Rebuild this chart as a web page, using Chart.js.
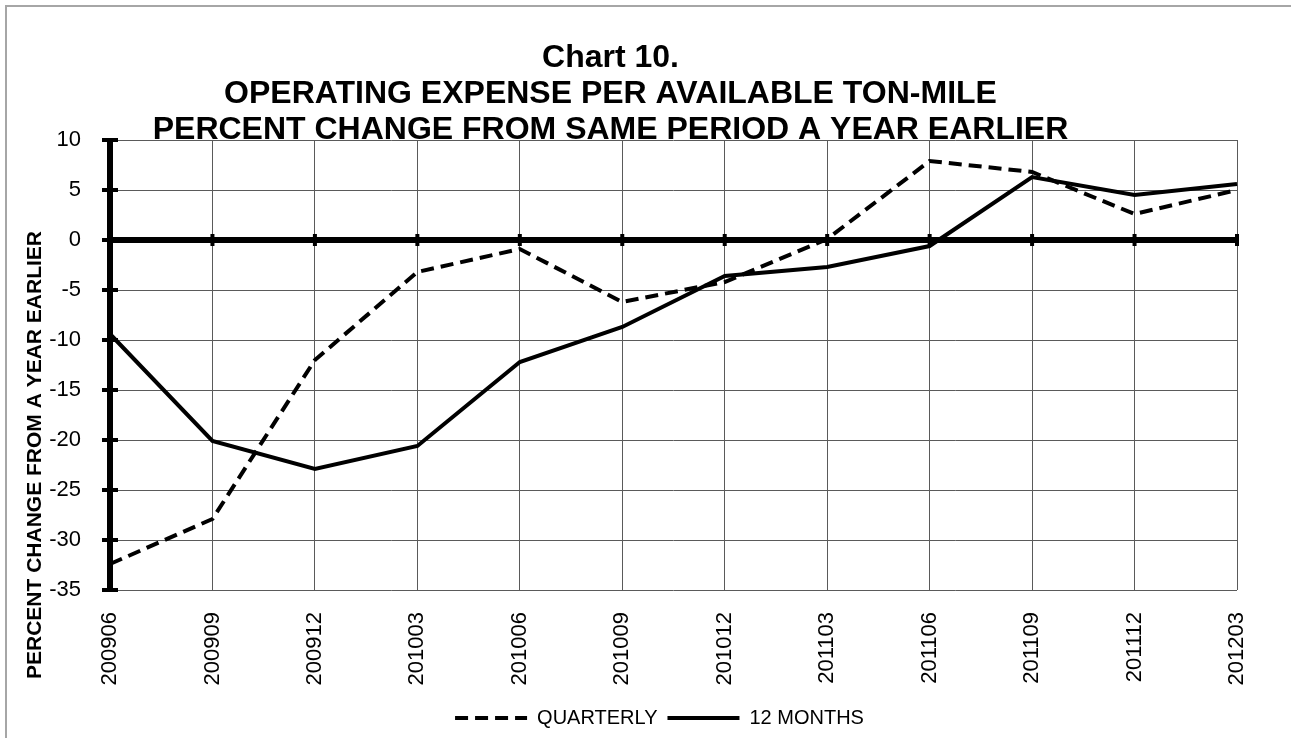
<!DOCTYPE html>
<html lang="en">
<head>
  <meta charset="UTF-8" />
  <title>Chart 10 - Operating Expense per Available Ton-Mile</title>
  <style>
    body {
      margin: 0;
      background: #fff;
    }
    .wrap {
      position: relative;
      width: 1291px;
      height: 738px;
      overflow: hidden;
    }
    .frame {
      position: absolute;
      left: 5px;
      top: 5px;
      width: 1300px;
      height: 760px;
      border-left: 2px solid #a6a6a6;
      border-top: 2px solid #a6a6a6;
    }
    canvas {
      position: absolute;
      left: 0;
      top: 0;
    }
  </style>
</head>
<body>
  <div class="wrap">
    <div class="frame"></div>
    <canvas id="chart10" width="1291" height="738"></canvas>
  </div>

  <script src="https://cdn.jsdelivr.net/npm/chart.js"></script>
  <script>
    const periods = ['200906', '200909', '200912', '201003', '201006', '201009',
                     '201012', '201103', '201106', '201109', '201112', '201203'];
    const quarterly = [-32.4, -27.9, -12.0, -3.2, -0.9, -6.2, -4.2, 0.1, 7.9, 6.8, 2.6, 5.0];
    const twelveMonths = [-9.4, -20.1, -22.9, -20.6, -12.2, -8.7, -3.6, -2.7, -0.6, 6.3, 4.5, 5.6];
    const titleLines = ['Chart 10.', 'OPERATING EXPENSE PER AVAILABLE TON-MILE',
                        'PERCENT CHANGE FROM SAME PERIOD A YEAR EARLIER'];
    const yAxisTitle = 'PERCENT CHANGE FROM A YEAR EARLIER';

    const FONT = "'Liberation Sans', Arial, sans-serif";

    // thick axis lines with cross tick marks, like the spreadsheet original
    const axisMarks = {
      id: 'axisMarks',
      afterLayout(chart) {
        // the original centres title and legend a little left of the boxes Chart.js gives them
        if (chart.titleBlock) { chart.titleBlock.left -= 8; chart.titleBlock.right -= 8; }
        if (chart.legend) { chart.legend.left -= 14; chart.legend.right -= 14; }
      },
      beforeDatasetsDraw(chart) {
        const { ctx, chartArea, scales: { x, y } } = chart;
        const zeroY = y.getPixelForValue(0);
        ctx.save();
        ctx.fillStyle = '#000';
        ctx.fillRect(chartArea.left, zeroY - 3, chartArea.right - chartArea.left + 2, 6);
        x.ticks.forEach((t, i) => {
          const px = x.getPixelForTick(i);
          ctx.fillRect(px - 2, zeroY - 6, 4, 12);
        });
        ctx.fillRect(chartArea.left - 3, chartArea.top, 6, chartArea.bottom - chartArea.top);
        y.ticks.forEach((t, i) => {
          const py = y.getPixelForTick(i);
          ctx.fillRect(chartArea.left - 8, py - 2, 16, 4);
        });
        ctx.restore();
      },
      afterDraw(chart) {
        const ctx = chart.ctx;
        ctx.save();
        ctx.translate(35, 455);
        ctx.rotate(-Math.PI / 2);
        ctx.font = 'bold 21px ' + FONT;
        ctx.fillStyle = '#000';
        ctx.textAlign = 'center';
        ctx.textBaseline = 'middle';
        ctx.fillText(yAxisTitle, 0, 0);
        ctx.restore();
      }
    };

    new Chart(document.getElementById('chart10'), {
      type: 'line',
      data: {
        labels: periods,
        datasets: [
          {
            label: 'QUARTERLY',
            data: quarterly,
            borderColor: '#000',
            backgroundColor: '#000',
            borderWidth: 4,
            borderDash: [13, 7],
            pointRadius: 0,
            tension: 0
          },
          {
            label: '12 MONTHS',
            data: twelveMonths,
            borderColor: '#000',
            backgroundColor: '#000',
            borderWidth: 4,
            pointRadius: 0,
            tension: 0
          }
        ]
      },
      options: {
        responsive: false,
        animation: false,
        devicePixelRatio: 1,
        layout: {
          padding: { top: 0, left: 0, right: 54, bottom: 0 }
        },
        plugins: {
          title: {
            display: true,
            text: titleLines,
            color: '#000',
            font: { family: FONT, size: 32, weight: 'bold', lineHeight: '36px' },
            padding: { top: 40, bottom: -8 }
          },
          legend: {
            position: 'bottom',
            fullSize: false,
            labels: {
              color: '#000',
              font: { family: FONT, size: 20 },
              usePointStyle: true,
              pointStyle: 'line',
              pointStyleWidth: 72,
              padding: 10,
              generateLabels(chart) {
                const items = Chart.defaults.plugins.legend.labels.generateLabels(chart);
                items.forEach(item => {
                  const ds = chart.data.datasets[item.datasetIndex];
                  item.lineDash = ds.borderDash || [];
                  item.lineWidth = ds.borderWidth;
                });
                return items;
              }
            }
          },
          tooltip: { enabled: false }
        },
        scales: {
          x: {
            offset: false,
            grid: { color: '#5a5a5a', lineWidth: 1, drawTicks: false },
            border: { display: false },
            ticks: {
              color: '#000',
              font: { family: FONT, size: 22 },
              minRotation: 90,
              maxRotation: 90,
              autoSkip: false,
              padding: 22
            },
            afterFit(scale) { scale.height = 108; }
          },
          y: {
            min: -35,
            max: 10,
            grid: { color: '#5a5a5a', lineWidth: 1, drawTicks: false },
            border: { display: false },
            ticks: {
              stepSize: 5,
              color: '#000',
              font: { family: FONT, size: 22 },
              padding: 29
            },
            afterFit(scale) { scale.width = 110; }
          }
        }
      },
      plugins: [axisMarks]
    });
  </script>
</body>
</html>
